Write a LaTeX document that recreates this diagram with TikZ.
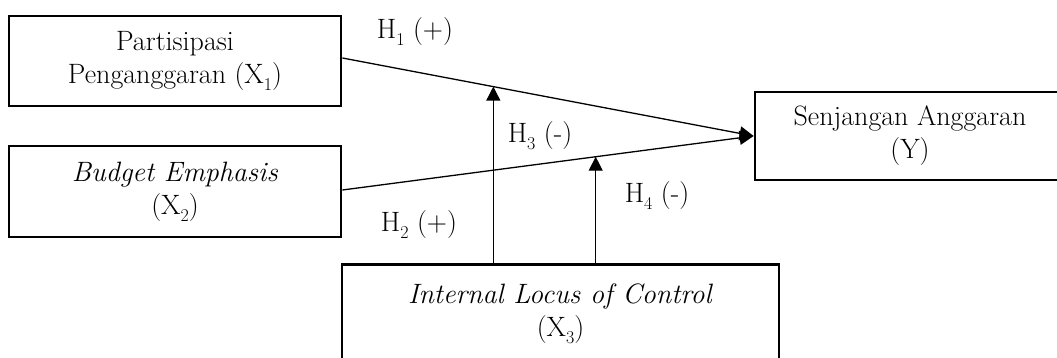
\documentclass[tikz,border=0pt]{standalone}
\usepackage{fontspec}
\usetikzlibrary{arrows.meta,calc}
\newcommand{\subx}[1]{\raisebox{-7pt}{\fontsize{18}{18}\selectfont #1}}
\begin{document}
\begin{tikzpicture}[x=1pt,y=-1pt,
  box/.style={draw,line width=2.8pt,align=center,inner sep=0pt,font=\fontsize{28}{33}\selectfont},
  lbl/.style={font=\fontsize{28}{33}\selectfont,inner sep=0pt},
  conn/.style={line width=1.3pt,-{Triangle[length=14pt,width=14pt]}}]
\useasboundingbox (0,0) rectangle (1057,358);
\clip (0,0) rectangle (1057,358);
\node[box,minimum width=332pt,minimum height=90pt] (b1) at (175,61) {Partisipasi\\Penganggaran (X\subx{1})};
\node[box,minimum width=332pt,minimum height=91pt] (b2) at (175,191.5) {\textit{Budget Emphasis}\\(X\subx{2})};
\node[box,minimum width=310pt,minimum height=88pt] (y) at (910,136) {Senjangan Anggaran\\(Y)};
\node[box,minimum width=437pt,minimum height=98pt,anchor=north] (x3) at (560.5,263) {\textit{Internal Locus of Control}\\(X\subx{3})};
\draw[conn] ($(b1.east)+(0,-3)$) -- (y.west);
\draw[conn] ($(b2.east)+(0,-1.5)$) -- (y.west);
\coordinate (m1) at ($($(b1.east)+(0,-3)$)!0.367!(y.west)$);
\coordinate (m2) at ($($(b2.east)+(0,-1.5)$)!0.616!(y.west)$);
\draw[conn] (m1 |- x3.north) -- (m1);
\draw[conn] (m2 |- x3.north) -- (m2);
\node[lbl] (h1) at (415,32) {H\subx{1} (+)};
\node[lbl] (h3) at (540,136) {H\subx{3} (-)};
\node[lbl] (h4) at (657,196) {H\subx{4} (-)};
\node[lbl] (h2) at (419,225) {H\subx{2} (+)};
\end{tikzpicture}
\end{document}
